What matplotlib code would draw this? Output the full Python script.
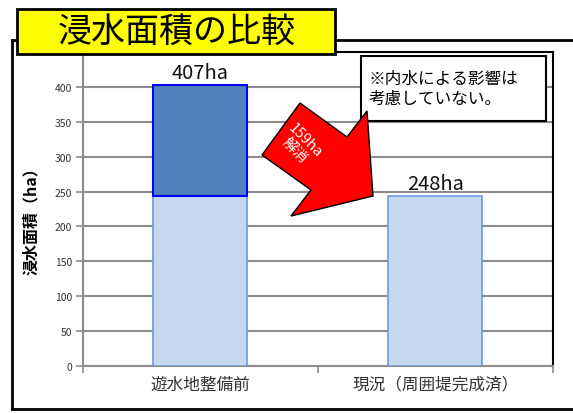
import matplotlib
matplotlib.use("Agg")
import matplotlib.pyplot as plt
from matplotlib.patches import Rectangle, Polygon
from matplotlib.lines import Line2D

plt.rcParams['font.family'] = ['Noto Sans CJK JP', 'DejaVu Sans']

# data
categories = ['遊水地整備前', '現況（周囲堤完成済）']
remaining = [243, 243]     # light part (still flooded)
resolved = [159, 0]        # dark part (resolved)
value_labels = ['407ha', '248ha']
yticks = [0, 50, 100, 150, 200, 250, 300, 350, 400]

W, H = 573, 414
fig = plt.figure(figsize=(W / 100, H / 100), dpi=100)


def fx(x):
    return x / W


def fy(y):
    return 1 - y / H


ax = fig.add_axes([fx(83), fy(367), fx(553) - fx(83), fy(53) - fy(367)])
x = [0, 1]
ax.bar(x, remaining, width=0.4, color='#C6D9F0', edgecolor='#6A9BDE', linewidth=1.2, zorder=3)
ax.bar(x[:1], resolved[:1], bottom=remaining[:1], width=0.4, color='#4F81BD',
       edgecolor='#0000FF', linewidth=1.5, zorder=3)

totals = [r + d for r, d in zip(remaining, resolved)]
for xi, t, lab in zip(x, totals, value_labels):
    ax.text(xi, t + 3, lab, ha='center', va='bottom', fontsize=14.5, color='#111111', zorder=5)

ax.set_xlim(-0.5, 1.5)
ax.set_ylim(0, 450)
ax.set_yticks(yticks)
ax.set_yticklabels([str(v) for v in yticks], fontsize=7.5, color='#333333')
ax.yaxis.grid(True, color='#8C8C8C', linewidth=1.5, zorder=0)
ax.set_axisbelow(True)
ax.tick_params(axis='y', length=5, color='#8C8C8C', width=1.2, pad=3)

ax.set_xticks([-0.5, 0.5, 1.5])
ax.set_xticklabels(['', '', ''])
ax.tick_params(axis='x', which='major', length=5, color='#8C8C8C', width=1.2)
ax.set_xticks(x, minor=True)
ax.set_xticklabels(categories, minor=True, fontsize=12, color='#333333')
ax.tick_params(axis='x', which='minor', length=0, pad=7)

for s in ['left', 'bottom']:
    ax.spines[s].set_color('#8C8C8C')
    ax.spines[s].set_linewidth(1.5)
for s in ['top', 'right']:
    ax.spines[s].set_color('black')
    ax.spines[s].set_linewidth(1.5)

ax.set_ylabel('浸水面積（ha）', fontsize=11.5, fontweight='bold')
ax.yaxis.set_label_coords(-0.094, 0.478)

# outer frame
frame_kw = dict(color='black', linewidth=2, transform=fig.transFigure)
fig.add_artist(Line2D([fx(12), fx(12)], [fy(41), fy(410)], **frame_kw))
fig.add_artist(Line2D([fx(12), fx(573)], [fy(41), fy(41)], **frame_kw))
fig.add_artist(Line2D([fx(12), fx(573)], [fy(410), fy(410)], **frame_kw))

# title box
fig.add_artist(Rectangle((fx(17), fy(55)), fx(335) - fx(17), fy(10) - fy(55),
                         facecolor='#FFFF00', edgecolor='black', linewidth=2,
                         transform=fig.transFigure, zorder=10))
fig.text(fx(177), fy(32), '浸水面積の比較', ha='center', va='center', fontsize=24.5, zorder=11)

# note box
fig.add_artist(Rectangle((fx(361), fy(122)), fx(546) - fx(361), fy(57) - fy(122),
                         facecolor='white', edgecolor='black', linewidth=1.5,
                         transform=fig.transFigure, zorder=10))
fig.text(fx(369), fy(89), '※内水による影響は\n考慮していない。', ha='left', va='center',
         fontsize=12, linespacing=1.2, zorder=11)

# red arrow
arrow_px = [(300, 104), (347, 138), (367, 112), (373, 197), (291, 217), (311, 191), (262, 156)]
fig.add_artist(Polygon([(fx(a), fy(b)) for a, b in arrow_px], closed=True,
                       facecolor='#FF0000', edgecolor='black', linewidth=1,
                       transform=fig.transFigure, zorder=10))
fig.text(fx(300), fy(146), '159ha\n解消', ha='center', va='center', color='white',
         fontsize=10.5, rotation=-45, linespacing=1.05, zorder=11)

fig.savefig('out.png', dpi=100)
